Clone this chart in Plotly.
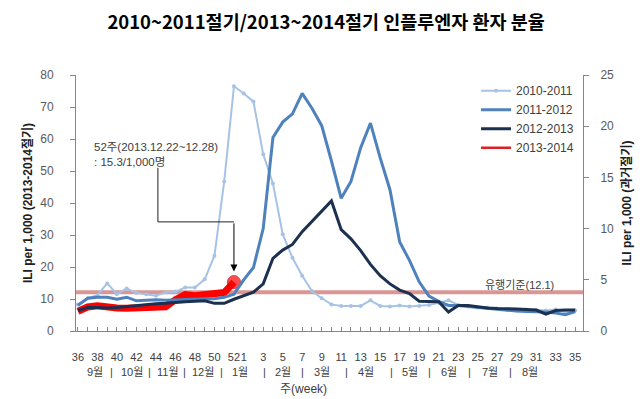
import plotly.graph_objects as go

# ---------------- data ----------------
weeks = list(range(36, 53)) + list(range(1, 36))          # 52 weeks (36..52, 1..35)
week_tick_labels = [36, 38, 40, 42, 44, 46, 48, 50, 52, 1, 3, 5, 7, 9, 11, 13,
                    15, 17, 19, 21, 23, 25, 27, 29, 31, 33, 35]
month_labels = ["9월", "10월", "11월", "12월", "1월", "2월", "3월", "4월",
                "5월", "6월", "7월", "8월"]

# past seasons (right axis, ILI per 1,000)
s2010_2011 = [2.6, 3.2, 3.5, 4.65, 3.6, 4.15, 3.7, 3.6, 3.45, 3.75, 3.85, 4.25, 4.25, 5.05, 7.35, 14.6, 23.9,
              23.2, 22.4, 17.25, 14.4, 9.45, 7.15, 5.4, 3.9, 3.2, 2.6, 2.45, 2.45, 2.45, 3.0, 2.45,
              2.4, 2.5, 2.4, 2.45, 2.55, 2.75, 3.0, 2.55, 2.4, 2.3, 2.3, 2.2, 2.1, 2.0, 2.1, 2.05, 2.0, 2.1, 1.85, 2.0]
s2011_2012 = [2.5, 3.2, 3.3, 3.3, 3.1, 3.3, 2.95, 3.0, 3.05, 3.0, 3.05, 3.1, 3.15, 3.15, 3.15, 3.3, 3.6,
              5.0, 6.2, 10.0, 18.9, 20.4, 21.2, 23.2, 21.75, 20.05, 16.6, 12.96, 14.6, 17.9, 20.3, 16.9,
              13.8, 8.7, 6.9, 4.8, 3.4, 2.9,
              2.5, 2.5, 2.4, 2.3, 2.2, 2.1, 2.0, 1.95, 1.9, 1.9, 1.85, 1.75, 1.6, 1.9]
s2012_2013 = [2.0, 2.3, 2.3, 2.25, 2.3, 2.4, 2.5, 2.55, 2.65, 2.7, 2.8, 2.85, 2.9, 2.95, 2.7, 2.7, 3.1,
              3.45, 3.8, 4.6, 7.1, 7.9, 8.45, 9.7, 10.7, 11.7, 12.7, 9.9, 9.0, 7.85, 6.5, 5.4, 4.6, 4.0, 3.65,
              2.9, 2.9, 2.85,
              1.85, 2.5, 2.5, 2.35, 2.25, 2.2, 2.2, 2.15, 2.1, 2.05, 1.65, 2.0, 2.05, 2.05]
# current season (left axis)
s2013_2014 = [6.2, 7.5, 7.9, 7.4, 7.2, 7.1, 7.3, 7.5, 7.7, 7.6, 9.8, 11.4, 11.0, 11.3, 11.7, 12.0, 15.3]

epidemic_threshold = 12.1
latest_week_note = "52주(2013.12.22~12.28)<br>: 15.3/1,000명"

# ---------------- figure ----------------
idx = list(range(len(weeks)))
cur_idx = idx[:len(s2013_2014)]
tickvals = []
for i, w in enumerate(weeks):
    if w in week_tick_labels and i not in tickvals:
        tickvals.append(i)
ticktext = [str(weeks[i]) for i in tickvals]

FONT = "Liberation Sans, Noto Sans CJK KR, sans-serif"
TXT = "#404040"

fig = go.Figure()

n = len(s2013_2014)
fig.add_trace(go.Scatter(
    x=cur_idx, y=s2013_2014, mode="lines+markers", name="2013-2014",
    line=dict(color="#ff0000", width=7), showlegend=False,
    marker=dict(size=[0] * (n - 1) + [13], color="#ff0000",
                line=dict(color="#b00000", width=[0] * (n - 1) + [1])),
    yaxis="y"))

fig.add_trace(go.Scatter(
    x=idx, y=s2010_2011, mode="lines+markers", name="2010-2011",
    line=dict(color="#a6c3e6", width=2), marker=dict(size=4, color="#a6c3e6"),
    yaxis="y2", legendrank=1))
fig.add_trace(go.Scatter(
    x=idx, y=s2011_2012, mode="lines", name="2011-2012",
    line=dict(color="#4f81bd", width=3), yaxis="y2", legendrank=2))
fig.add_trace(go.Scatter(
    x=idx, y=s2012_2013, mode="lines", name="2012-2013",
    line=dict(color="#1c3150", width=3), yaxis="y2", legendrank=3))
fig.add_trace(go.Scatter(
    x=[None], y=[None], mode="lines", name="2013-2014",
    line=dict(color="#e02020", width=2.5), yaxis="y", legendrank=4))

fig.add_shape(type="line", xref="paper", x0=0, x1=1, yref="y",
              y0=epidemic_threshold, y1=epidemic_threshold,
              line=dict(color="#d99694", width=4), layer="below")
fig.add_annotation(x=49.0, y=epidemic_threshold, xref="x", yref="y",
                   text=f"유행기준({epidemic_threshold})", showarrow=False,
                   xanchor="right", yanchor="bottom", yshift=-1,
                   font=dict(size=11, color=TXT, family=FONT))

fig.add_annotation(x=1.4, y=60.0, xref="x", yref="y", text=latest_week_note,
                   showarrow=False, xanchor="left", yanchor="top", align="left",
                   font=dict(size=11.5, color=TXT, family=FONT))
fig.add_shape(type="path", xref="x", yref="y",
              path="M 8.2,51 L 8.2,34.1 L 16,34.1",
              line=dict(color="#202020", width=1))
fig.add_annotation(x=16, y=18.6, xref="x", yref="y", ax=16, ay=34.1,
                   axref="x", ayref="y", text="", showarrow=True,
                   arrowhead=2, arrowsize=1.4, arrowwidth=1, arrowcolor="#000000")

month_px = [95, 132, 168, 203, 240, 283, 322, 366, 410, 449, 490, 530]
sep_px = [112, 150, 185, 222, 265, 303, 347, 392, 430, 470, 511]
for lab, px in zip(month_labels, month_px):
    fig.add_annotation(x=(px - 78) / 9.75, y=-0.16, xref="x", yref="paper",
                       text=lab, showarrow=False, yanchor="middle",
                       font=dict(size=11, color=TXT, family=FONT))
for px in sep_px:
    fig.add_annotation(x=(px - 78) / 9.75, y=-0.16, xref="x", yref="paper",
                       text="|", showarrow=False, yanchor="middle",
                       font=dict(size=11, color=TXT, family=FONT))
fig.add_annotation(x=0.448, y=-0.227, xref="paper", yref="paper",
                   text="주(week)", showarrow=False, xanchor="center",
                   yanchor="middle",
                   font=dict(size=12, color=TXT, family=FONT))

axis_line = "#868686"
fig.update_layout(
    width=635, height=391,
    margin=dict(l=68, r=60, t=67, b=68, autoexpand=False),
    paper_bgcolor="white", plot_bgcolor="white",
    font=dict(family=FONT, color=TXT, size=12),
    title=dict(text="<b>2010~2011절기/2013~2014절기 인플루엔자 환자 분율</b>",
               x=0.501, xanchor="center", y=0.962, yanchor="middle",
               font=dict(size=18.5, color="#000000",
                         family="Noto Sans CJK KR, sans-serif")),
    showlegend=True,
    legend=dict(x=0.789, y=0.995, xanchor="left", yanchor="top",
                bgcolor="rgba(0,0,0,0)", font=dict(size=12, color=TXT),
                itemwidth=30, tracegroupgap=0),
    xaxis=dict(range=[-0.2, 51.8], tickmode="array", tickvals=tickvals,
               ticktext=ticktext, ticks="", showgrid=False, zeroline=False,
               showline=True, linecolor=axis_line, linewidth=1,
               ticklabelstandoff=16, tickangle=0, automargin=False,
               tickfont=dict(size=11, color=TXT),
               minor=dict(tickmode="linear", tick0=0, dtick=1, ticks="inside",
                          ticklen=4, tickcolor=axis_line, showgrid=False)),
    yaxis=dict(range=[0, 80], dtick=10, ticks="outside", ticklen=5,
               tickcolor=axis_line, showline=True, linecolor=axis_line,
               showgrid=False, zeroline=False, automargin=False,
               ticklabelstandoff=14,
               tickfont=dict(size=12, color="#595959"),
               title=dict(text="<b>ILI per 1,000 (2013-2014절기)</b>",
                          standoff=5, font=dict(size=12, color="#202020"))),
    yaxis2=dict(range=[0, 25], dtick=5, overlaying="y", side="right",
                ticks="outside", ticklen=5, tickcolor=axis_line,
                showline=True, linecolor=axis_line, showgrid=False,
                zeroline=False, automargin=False, ticklabelstandoff=9,
                tickfont=dict(size=12, color="#595959"),
                title=dict(text="<b>ILI per 1,000 (과거절기)</b>",
                           standoff=9, font=dict(size=12, color="#202020"))),
)

fig.write_html("out.html")
